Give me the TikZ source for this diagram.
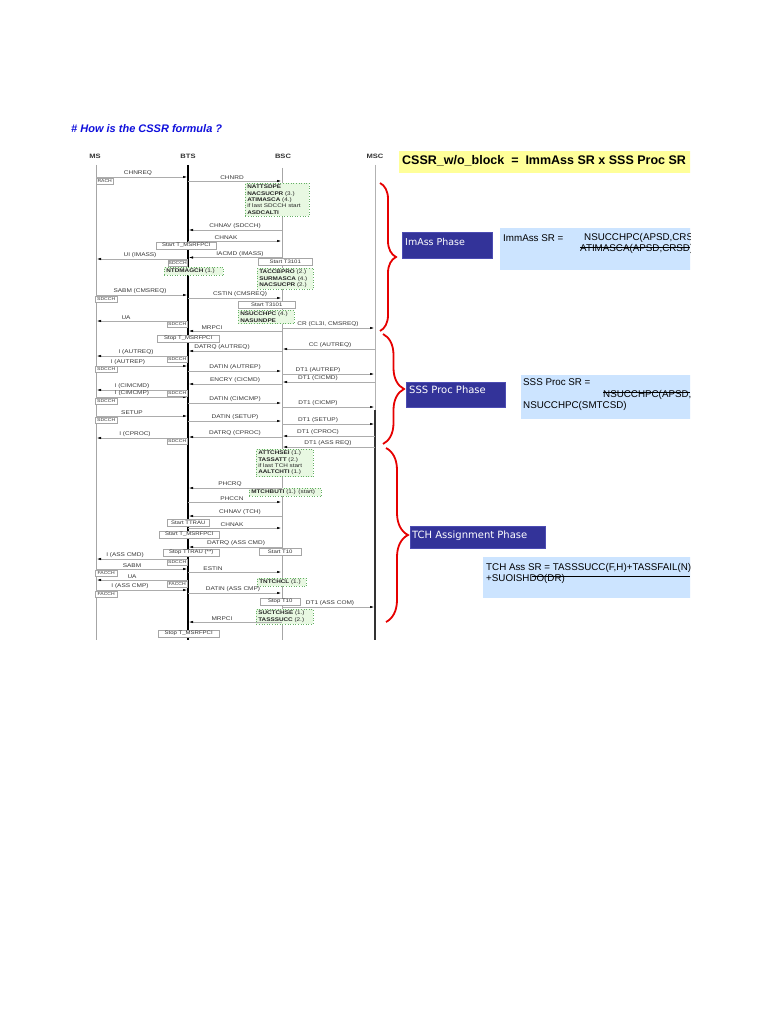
\documentclass[tikz,border=0pt]{standalone}
\usepackage{fontspec}
\setmainfont{Liberation Sans}
\newfontfamily\dejavu{DejaVu Sans}
\newfontfamily\wf[FakeStretch=1.2]{Liberation Sans}
\usetikzlibrary{arrows.meta,decorations.pathreplacing}
\definecolor{phaseblue}{RGB}{51,51,153}
\definecolor{lightblue}{RGB}{204,228,255}
\definecolor{yel}{RGB}{255,255,153}
\definecolor{titleblue}{RGB}{15,15,220}
\definecolor{gfill}{RGB}{232,248,226}
\definecolor{gdraw}{RGB}{100,175,100}
\definecolor{bracered}{RGB}{230,0,0}
\tikzset{
  msg/.style={draw=gray!65, line width=0.5pt, -{Latex[length=4pt,width=2.4pt,color=black]}},
  lbl/.style={font=\wf\fontsize{5.4}{6}\selectfont, text=black!78, inner sep=0.4pt, anchor=south},
  tbox/.style={draw=gray!70, fill=white, line width=0.4pt, font=\wf\fontsize{5}{6}\selectfont, text=black!80, inner xsep=1pt, inner ysep=0.6pt, minimum height=7pt, anchor=north west},
  cbox/.style={tbox, font=\wf\fontsize{4.2}{5}\selectfont, inner xsep=0.5pt, minimum height=6pt},
  gbox/.style={draw=gdraw, dotted, line width=0.6pt, fill=gfill, font=\wf\fontsize{5.3}{6.4}\selectfont, text=black!85, align=left, inner xsep=2pt, inner ysep=1.6pt, anchor=north west},
  life/.style={draw=gray!70, line width=0.5pt},
  head/.style={font=\wf\bfseries\fontsize{6.3}{7}\selectfont, text=black!80},
  phase/.style={draw=gray!60!blue, fill=phaseblue, text=white, anchor=north west, inner sep=0pt},
  fbox/.style={fill=lightblue, draw=none, anchor=north west, inner sep=0pt},
  ftxt/.style={font=\fontsize{9.8}{11}\selectfont, anchor=west, inner sep=0pt, text=black},
  brc/.style={draw=bracered, line width=1.8pt, decorate, decoration={brace, amplitude=16pt, aspect=0.5}}
}
\newcommand\sqmsg[6]{%
  \coordinate (#1s) at (#2,#4); \coordinate (#1e) at (#3,#4);
  \draw[msg] (#1s) -- (#1e);
  \node[lbl] (#1l) at (#5,#4-0.6) {#6};}
\newcommand\tbx[5]{\node[tbox, minimum width=#4pt] (#1) at (#2,#3) {#5};}
\newcommand\cbx[5]{\node[cbox, minimum width=#4pt] (#1) at (#2,#3) {#5};}
\begin{document}
\begin{tikzpicture}[x=1pt,y=-1pt]
\useasboundingbox (0,0) rectangle (768,1024);
\fill[white] (0,0) rectangle (768,1024);

% title
\node[anchor=west, inner sep=0pt, text=titleblue, font=\bfseries\itshape\fontsize{11}{13}\selectfont] (title) at (71,129) {\# How is the CSSR formula ?};

% headers and lifelines
\node[head] (hMS) at (95,156) {MS};
\node[head] (hBTS) at (188,156) {BTS};
\node[head] (hBSC) at (283,156) {BSC};
\node[head] (hMSC) at (375,156) {MSC};
\coordinate (msT) at (96,165); \coordinate (msB) at (96,640);
\coordinate (btsT) at (188,165); \coordinate (btsB) at (188,640);
\coordinate (bscT) at (282,168); \coordinate (bscB) at (282,640);
\coordinate (mscT) at (375,165); \coordinate (mscM) at (375,410); \coordinate (mscB) at (375,640);
\draw[life] (msT) -- (msB);
\draw[black, line width=1.4pt] (btsT) -- (btsB);
\draw[life] (bscT) -- (bscB);
\draw[life, draw=gray!60] (mscT) -- (mscM);
\draw[draw=gray!40!black, line width=1.2pt] (mscM) -- (mscB);

% green counter boxes
\node[gbox, text width=60pt] (g1) at (245,183) {\textbf{NATTSDPE}\\\textbf{NACSUCPR} (3.)\\\textbf{ATIMASCA} (4.)\\if last SDCCH start\\\textbf{ASDCALTI}};
\node[gbox, text width=55pt] (g2) at (164,267) {\textbf{NTDMAGCH} (1.)};
\node[gbox, text width=52pt] (g3) at (257,268) {\textbf{TACCBPRO} (2.)\\\textbf{SURMASCA} (4.)\\\textbf{NACSUCPR} (2.)};
\node[gbox, text width=52pt] (g4) at (238,310) {\textbf{NSUCCHPC} (4.)\\\textbf{NASUNDPE}};
\node[gbox, text width=53pt] (g5) at (256,449) {\textbf{ATTCHSEI} (1.)\\\textbf{TASSATT} (2.)\\if last TCH start\\\textbf{AALTCHTI} (1.)};
\node[gbox, text width=68pt] (g6) at (249,488) {\textbf{MTCHBUTI} (1.) (start)};
\node[gbox, text width=45pt] (g7) at (257,578) {\textbf{TNTCHCL} (1.)};
\node[gbox, text width=53pt] (g8) at (256,609) {\textbf{SUCTCHSE} (1.)\\\textbf{TASSSUCC} (2.)};

% messages
\sqmsg{m1}{96}{187}{177}{138}{CHNREQ}
\sqmsg{m2}{188}{281}{181}{232}{CHNRD}
\sqmsg{m3}{282}{189}{230}{235}{CHNAV (SDCCH)}
\sqmsg{m4}{188}{281}{241}{226}{CHNAK}
\sqmsg{m5}{282}{189}{257.5}{240}{IACMD (IMASS)}
\sqmsg{m6}{188}{97}{259}{140}{UI (IMASS)}
\sqmsg{m7}{96}{187}{295}{140}{SABM (CMSREQ)}
\sqmsg{m8}{188}{281}{298}{240}{CSTIN (CMSREQ)}
\sqmsg{m9}{188}{97}{321}{126}{UA}
\sqmsg{m10}{282}{189}{331}{212}{MRPCI}
\sqmsg{m11}{282}{374}{328}{328}{CR (CL3I, CMSREQ)}
\sqmsg{m12}{282}{189}{351}{222}{DATRQ (AUTREQ)}
\sqmsg{m13}{375}{283}{349}{330}{CC (AUTREQ)}
\sqmsg{m14}{188}{97}{356}{136}{I (AUTREQ)}
\sqmsg{m15}{96}{187}{366}{128}{I (AUTREP)}
\sqmsg{m16}{188}{281}{371}{235}{DATIN (AUTREP)}
\sqmsg{m17}{282}{374}{374}{318}{DT1 (AUTREP)}
\sqmsg{m18}{375}{283}{382}{318}{DT1 (CICMD)}
\sqmsg{m19}{282}{189}{384}{235}{ENCRY (CICMD)}
\sqmsg{m20}{188}{97}{390}{132}{I (CIMCMD)}
\sqmsg{m21}{96}{187}{397}{132}{I (CIMCMP)}
\sqmsg{m22}{188}{281}{403}{235}{DATIN (CIMCMP)}
\sqmsg{m23}{282}{374}{407}{318}{DT1 (CICMP)}
\sqmsg{m24}{96}{187}{416}{132}{SETUP}
\sqmsg{m25}{188}{281}{421}{235}{DATIN (SETUP)}
\sqmsg{m26}{282}{374}{424}{318}{DT1 (SETUP)}
\sqmsg{m27}{375}{283}{436}{318}{DT1 (CPROC)}
\sqmsg{m28}{282}{189}{437}{235}{DATRQ (CPROC)}
\sqmsg{m29}{188}{97}{438}{135}{I (CPROC)}
\sqmsg{m30}{375}{283}{447}{328}{DT1 (ASS REQ)}
\sqmsg{m31}{282}{189}{488}{230}{PHCRQ}
\sqmsg{m32}{188}{281}{502}{232}{PHCCN}
\sqmsg{m33}{282}{189}{516}{240}{CHNAV (TCH)}
\sqmsg{m34}{188}{281}{528}{232}{CHNAK}
\sqmsg{m35}{282}{189}{547}{236}{DATRQ (ASS CMD)}
\sqmsg{m36}{188}{97}{559}{125}{I (ASS CMD)}
\sqmsg{m37}{96}{187}{569}{132}{SABM}
\sqmsg{m38}{188}{281}{572}{213}{ESTIN}
\sqmsg{m39}{188}{97}{580}{132}{UA}
\sqmsg{m40}{96}{187}{590}{130}{I (ASS CMP)}
\sqmsg{m41}{188}{281}{593}{233}{DATIN (ASS CMP)}
\sqmsg{m42}{282}{374}{607}{330}{DT1 (ASS COM)}
\sqmsg{m43}{282}{189}{622}{222}{MRPCI}

% timer / channel boxes
\cbx{b1}{96}{178}{17}{RACH}
\tbx{b2}{156}{242}{60}{Start T\_MSRFPCI}
\cbx{b3}{168}{260}{19}{SDCCH}
\tbx{b4}{258}{258}{54}{Start T3101}
\cbx{b5}{95}{296}{22}{SDCCH}
\tbx{b6}{238}{301}{57}{Start T3101}
\cbx{b7}{167}{321}{20}{SDCCH}
\tbx{b8}{157}{335}{62}{Stop T\_MSRFPCI}
\cbx{b9}{167}{356}{20}{SDCCH}
\cbx{b10}{95}{366}{22}{SDCCH}
\cbx{b11}{167}{390}{20}{SDCCH}
\cbx{b12}{95}{398}{22}{SDCCH}
\cbx{b13}{95}{417}{22}{SDCCH}
\cbx{b14}{167}{438}{20}{SDCCH}
\tbx{b15}{167}{519}{42}{Start TTRAU}
\tbx{b16}{159}{531}{60}{Start T\_MSRFPCI}
\tbx{b17}{259}{548}{42}{Start T10}
\tbx{b18}{163}{549}{56}{Stop TTRAU (**)}
\cbx{b19}{167}{559}{20}{SDCCH}
\cbx{b20}{95}{570}{22}{FACCH}
\cbx{b21}{167}{581}{20}{FACCH}
\cbx{b22}{95}{591}{22}{FACCH}
\tbx{b23}{260}{598}{40}{Stop T10}
\tbx{b24}{158}{630}{61}{Stop T\_MSRFPCI}

% braces
\coordinate (br1a) at (380,183); \coordinate (br1b) at (380,331);
\coordinate (br2a) at (383,334); \coordinate (br2b) at (383,444);
\coordinate (br3a) at (386,448); \coordinate (br3b) at (386,622);
\draw[brc] (br1a) -- (br1b);
\draw[brc, decoration={amplitude=21pt}] (br2a) -- (br2b);
\draw[brc, decoration={amplitude=22pt}] (br3a) -- (br3b);

% right side, clipped at the page column
\begin{scope}
\clip (0,0) rectangle (690,1024);
\node[fbox, fill=yel, minimum width=292pt, minimum height=22pt] (yb) at (399,151) {};
\node[anchor=west, inner sep=0pt, font=\bfseries\fontsize{12.5}{14}\selectfont] (ybt) at (402,161) {CSSR\_w/o\_block \ = \ ImmAss SR x SSS Proc SR};

\node[phase, minimum width=90pt, minimum height=26pt] (p1) at (402,232) {};
\node[anchor=west, inner sep=0pt, text=white, font=\dejavu\fontsize{9.5}{11}\selectfont] (p1t) at (405,242) {ImAss Phase};
\node[fbox, minimum width=192pt, minimum height=42pt] (f1) at (500,228) {};
\node[ftxt] (f1a) at (503,238) {ImmAss SR =};
\node[ftxt] (f1b) at (584,238) {NSUCCHPC(APSD,CRSD)};
\node[ftxt] (f1c) at (580,248.5) {ATIMASCA(APSD,CRSD)};
\draw[black, line width=0.6pt] (580,247) -- (690,247);

\node[phase, minimum width=99pt, minimum height=25pt] (p2) at (406,382) {};
\node[anchor=west, inner sep=0pt, text=white, font=\dejavu\fontsize{10}{12}\selectfont] (p2t) at (409,390) {SSS Proc Phase};
\node[fbox, minimum width=170pt, minimum height=44pt] (f2) at (521,375) {};
\node[ftxt] (f2a) at (523,382) {SSS Proc SR =};
\node[ftxt] (f2b) at (603,395) {NSUCCHPC(APSD,CRSD)};
\draw[black, line width=0.6pt] (603,392.5) -- (690,392.5);
\node[ftxt] (f2c) at (523,406) {NSUCCHPC(SMTCSD)};

\node[phase, minimum width=135pt, minimum height=22pt] (p3) at (410,526) {};
\node[anchor=west, inner sep=0pt, text=white, font=\dejavu\fontsize{10}{12}\selectfont] (p3t) at (412,536) {TCH Assignment Phase};
\node[fbox, minimum width=208pt, minimum height=41pt] (f3) at (483,557) {};
\node[ftxt] (f3a) at (486,567.5) {TCH Ass SR = TASSSUCC(F,H)+TASSFAIL(N)};
\node[ftxt] (f3b) at (486,578.5) {+SUOISHDO(DR)};
\draw[black, line width=0.6pt] (532,576.5) -- (690,576.5);
\end{scope}
\end{tikzpicture}
\end{document}
